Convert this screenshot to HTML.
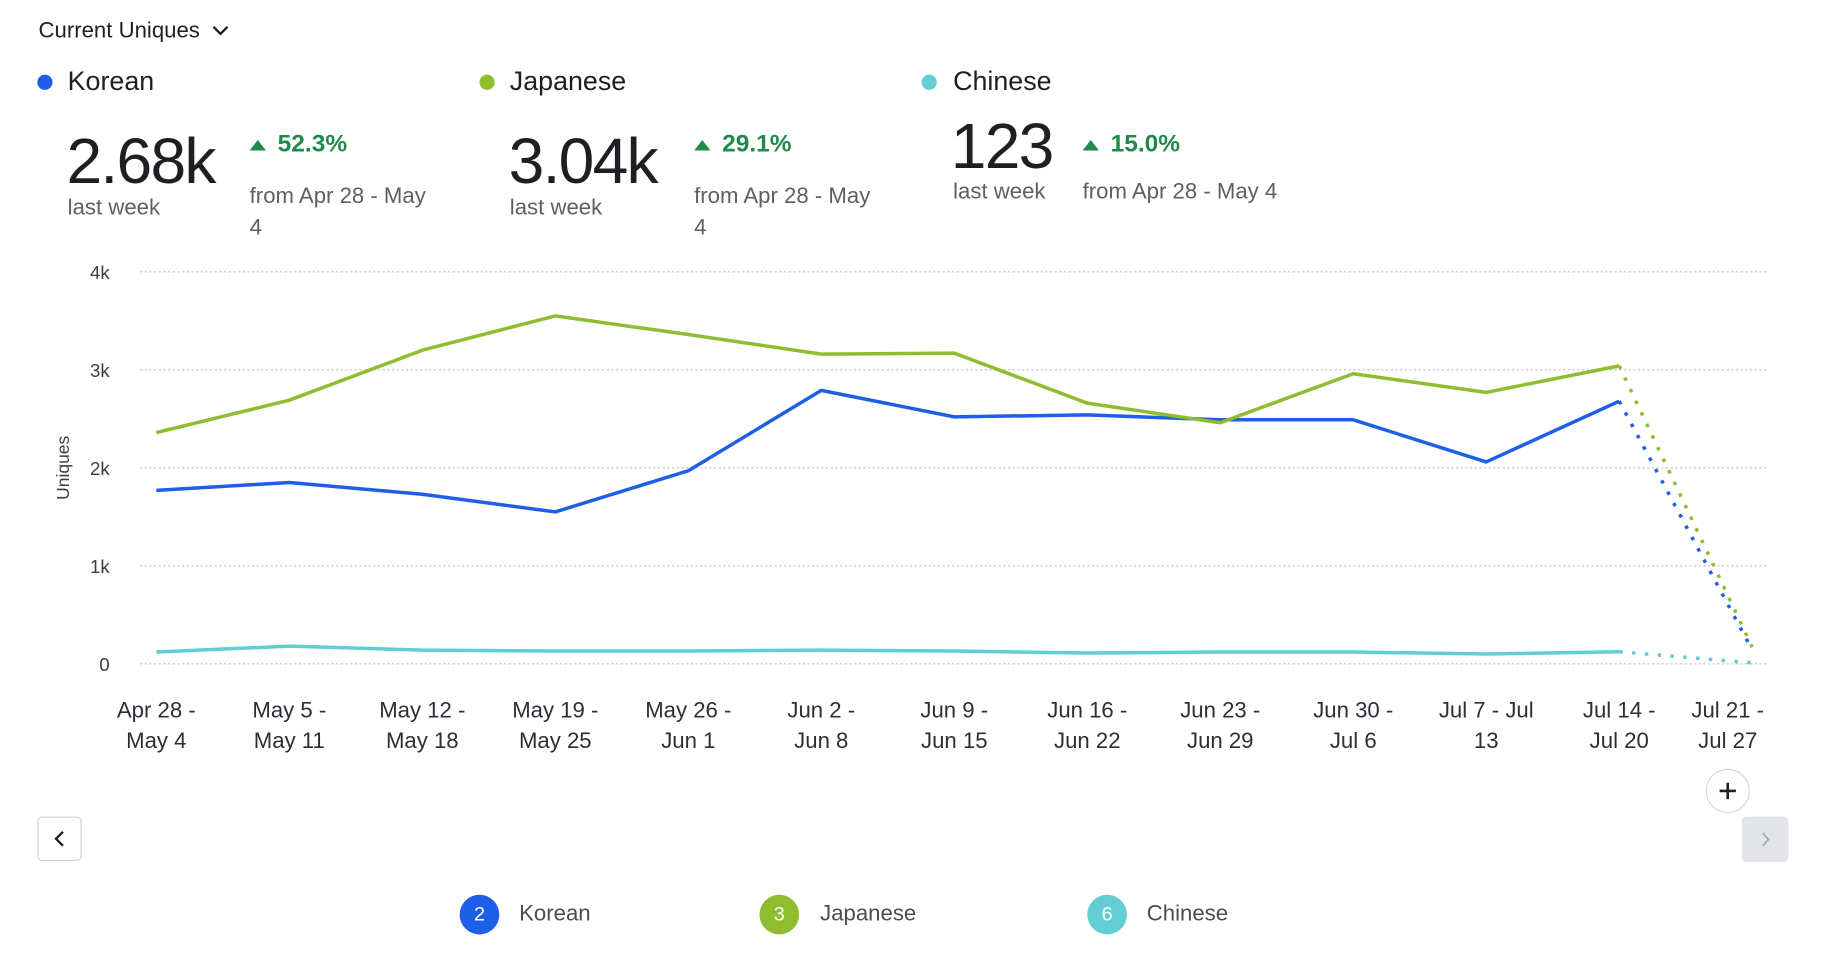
<!DOCTYPE html>
<html><head><meta charset="utf-8">
<style>
html,body{margin:0;padding:0;background:#fff;}
body{width:1828px;height:962px;overflow:hidden;font-family:"Liberation Sans",sans-serif;}
#wrap{position:absolute;left:0;top:0;width:1567px;height:825px;transform:scale(1.1666,1.1666);transform-origin:0 0;}
.abs{position:absolute;white-space:nowrap;}
.big{font-size:55px;color:#1d1f23;letter-spacing:-1.5px;}
.sub{font-size:19px;color:#5c5f66;}
.pct{font-size:21px;color:#1f8a4c;font-weight:bold;}
.tri{width:0;height:0;border-left:7px solid transparent;border-right:7px solid transparent;border-bottom:9px solid #1f8a4c;}
.dot{width:13px;height:13px;border-radius:50%;}
.lg{font-size:23px;color:#1d1f23;}
</style></head><body>
<div id="wrap">
<div class="abs" style="left:33px;top:16px;font-size:19px;color:#1d1f23;">Current Uniques <svg width="16" height="12" style="margin-left:4px" viewBox="0 0 16 12"><path d="M2 3 L8 9 L14 3" fill="none" stroke="#1d1f23" stroke-width="2"/></svg></div>

<div class="abs dot" style="left:32px;top:64px;background:#1f5ee8"></div>
<div class="abs lg" style="left:58px;top:56px;">Korean</div>
<div class="abs dot" style="left:411px;top:64px;background:#8fbd2f"></div>
<div class="abs lg" style="left:437px;top:56px;">Japanese</div>
<div class="abs dot" style="left:790px;top:64px;background:#62cdd2"></div>
<div class="abs lg" style="left:817px;top:56px;">Chinese</div>

<div class="abs big" style="left:57px;top:106px;">2.68k</div>
<div class="abs sub" style="left:58px;top:168px;">last week</div>
<div class="abs tri" style="left:214px;top:120px;"></div>
<div class="abs pct" style="left:238px;top:112px;">52.3%</div>
<div class="abs sub" style="left:214px;top:155px;line-height:27px;">from Apr 28 - May<br>4</div>

<div class="abs big" style="left:436px;top:106px;">3.04k</div>
<div class="abs sub" style="left:437px;top:168px;">last week</div>
<div class="abs tri" style="left:595px;top:120px;"></div>
<div class="abs pct" style="left:619px;top:112px;">29.1%</div>
<div class="abs sub" style="left:595px;top:155px;line-height:27px;">from Apr 28 - May<br>4</div>

<div class="abs big" style="left:815px;top:93px;">123</div>
<div class="abs sub" style="left:817px;top:154px;">last week</div>
<div class="abs tri" style="left:928px;top:120px;"></div>
<div class="abs pct" style="left:952px;top:112px;">15.0%</div>
<div class="abs sub" style="left:928px;top:154px;">from Apr 28 - May 4</div>

<svg id="chart" class="abs" style="left:0;top:0" width="1567" height="825"></svg>

<div class="abs" style="left:32px;top:700px;width:38px;height:38px;border:1px solid #cfd2d8;border-radius:4px;box-sizing:border-box;"><svg width="38" height="38" viewBox="0 0 38 38" style="position:absolute;left:-1px;top:-1px"><path d="M22 13 L16 19 L22 25" fill="none" stroke="#1d1f23" stroke-width="2"/></svg></div>
<div class="abs" style="left:1493px;top:700px;width:40px;height:39px;background:#e3e4e8;border-radius:4px;"><svg width="40" height="39" viewBox="0 0 40 39"><path d="M18 14 L23 19.5 L18 25" fill="none" stroke="#a8abb2" stroke-width="1.5"/></svg></div>
<div class="abs" style="left:1462px;top:659px;width:38px;height:38px;border:1px solid #d5d7dc;border-radius:50%;box-sizing:border-box;background:#fff;"><svg width="36" height="36" viewBox="0 0 36 36"><path d="M18 11 V25 M11 18 H25" stroke="#1d1f23" stroke-width="2.2"/></svg></div>

<div class="abs" style="left:394px;top:767px;height:34px;">
<div style="position:absolute;left:0;top:0;width:34px;height:34px;border-radius:50%;background:#1f5ee8;color:#fff;font-size:17px;text-align:center;line-height:34px;">2</div>
<div style="position:absolute;left:51px;top:6px;font-size:19px;color:#4a4d55;white-space:nowrap;">Korean</div></div>
<div class="abs" style="left:651px;top:767px;height:34px;">
<div style="position:absolute;left:0;top:0;width:34px;height:34px;border-radius:50%;background:#8fbd2f;color:#fff;font-size:17px;text-align:center;line-height:34px;">3</div>
<div style="position:absolute;left:52px;top:6px;font-size:19px;color:#4a4d55;white-space:nowrap;">Japanese</div></div>
<div class="abs" style="left:932px;top:767px;height:34px;">
<div style="position:absolute;left:0;top:0;width:34px;height:34px;border-radius:50%;background:#62cdd2;color:#fff;font-size:17px;text-align:center;line-height:34px;">6</div>
<div style="position:absolute;left:51px;top:6px;font-size:19px;color:#4a4d55;white-space:nowrap;">Chinese</div></div>
</div>
<script>
const categories = [["Apr 28 -","May 4"],["May 5 -","May 11"],["May 12 -","May 18"],["May 19 -","May 25"],["May 26 -","Jun 1"],["Jun 2 -","Jun 8"],["Jun 9 -","Jun 15"],["Jun 16 -","Jun 22"],["Jun 23 -","Jun 29"],["Jun 30 -","Jul 6"],["Jul 7 - Jul","13"],["Jul 14 -","Jul 20"],["Jul 21 -","Jul 27"]];
const korean = [1770,1850,1730,1550,1970,2790,2520,2540,2490,2490,2060,2680,140];
const japanese = [2360,2690,3200,3550,3360,3160,3170,2660,2460,2960,2770,3040,170];
const chinese = [120,180,140,130,130,140,130,110,120,120,100,123,10];
const yTicks = [0,1000,2000,3000,4000];
const yTickLabels = ["0","1k","2k","3k","4k"];

const NS="http://www.w3.org/2000/svg";
const svg=document.getElementById('chart');
const x0=134, step=114, yBase=569, yTop=233;
function xPos(i){return x0+i*step;}
function yPos(v){return yBase-(v/4000)*(yBase-yTop);}
function mk(tag,attrs){const e=document.createElementNS(NS,tag);for(const k in attrs)e.setAttribute(k,attrs[k]);svg.appendChild(e);return e;}

yTicks.forEach((t,i)=>{
  const g=mk('line',{x1:120,x2:1515,y1:yPos(t),y2:yPos(t),stroke:'#c9ccd1','stroke-width':1.2,'stroke-dasharray':'2 2'});
  
  
  const l=mk('text',{x:94,y:yPos(t)+6,'text-anchor':'end','font-size':16,fill:'#3a3d44','font-family':'Liberation Sans, sans-serif'});
  l.textContent=yTickLabels[i];
  
  
});
const yt=mk('text',{x:0,y:0,transform:'translate(59,401) rotate(-90)','text-anchor':'middle','font-size':15,fill:'#3a3d44','font-family':'Liberation Sans, sans-serif'});
yt.textContent='Uniques';



categories.forEach((c,i)=>{
  const cx = i===categories.length-1 ? xPos(i)-21 : xPos(i);
  c.forEach((ln,j)=>{
    const t=mk('text',{x:cx,y:615+j*26,'text-anchor':'middle','font-size':19,fill:'#2c2f36','font-family':'Liberation Sans, sans-serif'});
    t.textContent=ln;
    
    
  });
});

function series(data,color,name){
  const n=data.length;
  const pts=data.slice(0,n-1).map((v,i)=>xPos(i)+','+yPos(v)).join(' ');
  const p=mk('polyline',{points:pts,fill:'none',stroke:color,'stroke-width':3,'stroke-linejoin':'round'});
  
  
  const d=mk('line',{x1:xPos(n-2),y1:yPos(data[n-2]),x2:xPos(n-1),y2:yPos(data[n-1]),stroke:color,'stroke-width':3,'stroke-dasharray':'3 8'});
  
  
}
series(chinese,'#62cdd2','chinese');
series(korean,'#1f5ee8','korean');
series(japanese,'#8fbd2f','japanese');
</script>
</body></html>
